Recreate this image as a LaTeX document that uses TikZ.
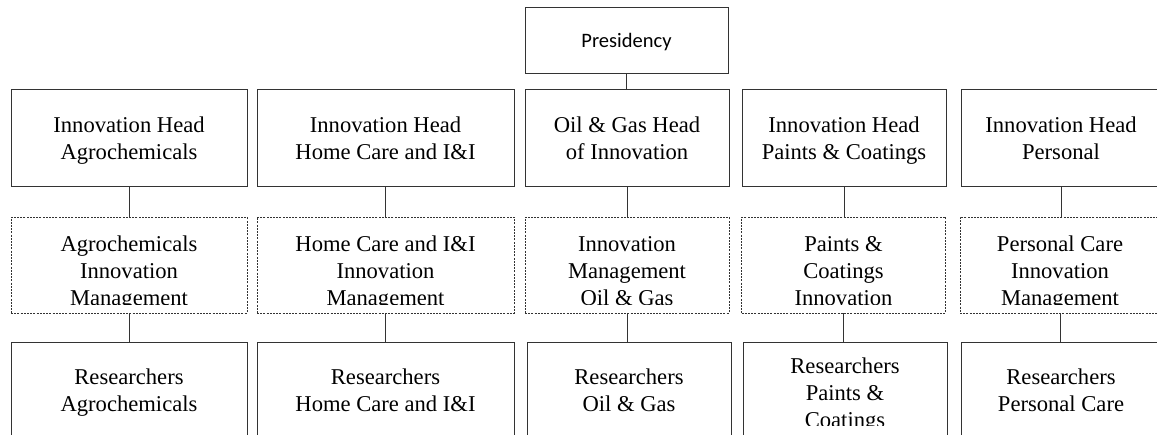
\documentclass[tikz,border=0pt]{standalone}
\usepackage{fontspec}
\setmainfont{Liberation Serif}
\newfontfamily\calibrifont{Carlito}
\newcommand\st{\strut}
\begin{document}
\begin{tikzpicture}[x=1pt,y=-1pt]
\tikzset{
  box/.style={draw=black!80, line width=0.8pt, inner sep=0pt, outer sep=0pt},
  dbox/.style={box, dash pattern=on 2pt off 1.2pt},
  lbl/.style={align=center, font=\fontsize{22.6}{27}\selectfont, inner sep=0pt},
  plbl/.style={font=\calibrifont\fontsize{20.5}{24}\selectfont, inner sep=0pt},
  conn/.style={draw=black!80, line width=0.8pt},
  w1/.style={minimum width=236pt},
  w2/.style={minimum width=257pt},
  w3/.style={minimum width=204pt},
  w4/.style={minimum width=204pt},
  w5/.style={minimum width=200pt},
  r1/.style={minimum height=97pt},
  r2/.style={minimum height=96pt},
  r3/.style={minimum height=98pt}
}
\useasboundingbox (0,0) rectangle (1157,434);
% Presidency
\node[box, minimum width=203pt, minimum height=66pt] (pres) at (626.5,40) {};
\node[plbl] (prest) at (626.5,42.5) {Presidency};
% Row 1: heads
\node[box,w1,r1] (h1) at (129,137.5) {};
\node[box,w2,r1] (h2) at (385.5,137.5) {};
\node[box,w3,r1] (h3) at (627,137.5) {};
\node[box,w4,r1] (h4) at (844,137.5) {};
\node[box,w5,r1] (h5) at (1061,137.5) {};
% Row 2: management (dashed)
\node[dbox,w1,r2] (m1) at (129,265) {};
\node[dbox,w2,r2] (m2) at (385.5,265) {};
\node[dbox,w3,r2] (m3) at (627,265) {};
\node[dbox,w4,r2] (m4) at (843.5,265) {};
\node[dbox,w5,r2] (m5) at (1060,265) {};
% Row 3: researchers
\node[box,w1,r3] (s1) at (129,391) {};
\node[box,w2,r3] (s2) at (385.5,391) {};
\node[box,w3,r3] (s3) at (629,391) {};
\node[box,w4,r3] (s4) at (845,391) {};
\node[box,w5,r3] (s5) at (1061,391) {};
% Row 1 texts
\node[lbl] (h1t) at (129,141) {\st Innovation Head\\\st Agrochemicals};
\node[lbl] (h2t) at (385.5,141) {\st Innovation Head\\\st Home Care and I\&I};
\node[lbl] (h3t) at (627,141) {\st Oil \& Gas Head\\\st of Innovation};
\node[lbl] (h4t) at (844,141) {\st Innovation Head\\\st Paints \& Coatings};
\node[lbl] (h5t) at (1061,141) {\st Innovation Head\\\st Personal};
% Row 2 texts (clipped)
\begin{scope}
\clip (0,217) rectangle (1157,304);
\node[lbl] (m1t) at (129,272.8) {\st Agrochemicals\\\st Innovation\\\st Management};
\node[lbl] (m2t) at (385.5,272.8) {\st Home Care and I\&I\\\st Innovation\\\st Management};
\node[lbl] (m3t) at (627,272.8) {\st Innovation\\\st Management\\\st Oil \& Gas};
\node[lbl] (m4t) at (843.5,272.8) {\st Paints \&\\\st Coatings\\\st Innovation};
\node[lbl] (m5t) at (1060,272.8) {\st Personal Care\\\st Innovation\\\st Management};
\end{scope}
% Row 3 texts (clipped)
\begin{scope}
\clip (0,342) rectangle (1157,425);
\node[lbl] (s1t) at (129,392.6) {\st Researchers\\\st Agrochemicals};
\node[lbl] (s2t) at (385.5,392.6) {\st Researchers\\\st Home Care and I\&I};
\node[lbl] (s3t) at (629,392.6) {\st Researchers\\\st Oil \& Gas};
\node[lbl] (s4t) at (845,394.6) {\st Researchers\\\st Paints \&\\\st Coatings};
\node[lbl] (s5t) at (1061,392.6) {\st Researchers\\\st Personal Care};
\end{scope}
% Connectors
\draw[conn] (pres.south) -- (pres.south |- h3.north);
\foreach \i in {1,...,5}{
  \draw[conn] (h\i.south) -- (h\i.south |- m\i.north);
  \draw[conn] (m\i.south) -- (m\i.south |- s\i.north);
}
\end{tikzpicture}
\end{document}
